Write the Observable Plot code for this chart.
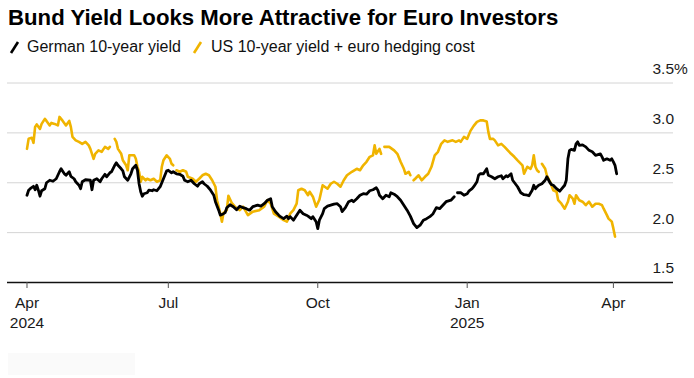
<!DOCTYPE html>
<html><head><meta charset="utf-8">
<script src="https://cdn.jsdelivr.net/npm/d3@7"></script>
<script src="https://cdn.jsdelivr.net/npm/@observablehq/plot@0.6"></script>
<style>
body{margin:0;background:#fff;font-family:"Liberation Sans",Arial,sans-serif;}
#wrap{position:relative;width:694px;height:378px;overflow:hidden;background:#fff;}
#title{position:absolute;left:8px;top:7px;font-weight:bold;font-size:22.2px;line-height:22px;color:#000;white-space:nowrap;}
#legend{position:absolute;left:0;top:39px;width:694px;height:18px;font-size:16px;line-height:16px;color:#111;white-space:nowrap;}
.item{position:absolute;top:0;}
.icon{position:absolute;top:0;}
#chart{position:absolute;left:0;top:60px;}
#logo{position:absolute;left:8px;top:353px;width:127px;height:22px;background:#fafafa;}
</style></head>
<body><div id="wrap">
<div id="title">Bund Yield Looks More Attractive for Euro Investors</div>
<div id="legend"></div>
<div id="chart"></div>
<div id="logo"></div>
</div>
<script>
// ---- data ----
const seriesNames = ["German 10-year yield", "US 10-year yield + euro hedging cost"];
const seriesColors = ["#000000", "#f0b400"];

const germanDates = ["2024-04-05","2024-04-06","2024-04-07","2024-04-09","2024-04-10","2024-04-11","2024-04-12","2024-04-13","2024-04-14","2024-04-16","2024-04-17","2024-04-19","2024-04-21","2024-04-23","2024-04-25","2024-04-26","2024-04-28","2024-04-29","2024-05-01","2024-05-02","2024-05-04","2024-05-05","2024-05-07","2024-05-08","2024-05-09","2024-05-11","2024-05-14","2024-05-15","2024-05-16","2024-05-18","2024-05-20","2024-05-21","2024-05-23","2024-05-24","2024-05-26","2024-05-27","2024-05-29","2024-05-30","2024-05-31","2024-06-02","2024-06-03","2024-06-04","2024-06-06","2024-06-08","2024-06-09","2024-06-11","2024-06-12","2024-06-13","2024-06-14","2024-06-15","2024-06-16","2024-06-18","2024-06-19","2024-06-21","2024-06-22","2024-06-24","2024-06-26","2024-06-28","2024-06-30","2024-07-01","2024-07-03","2024-07-04","2024-07-06","2024-07-08","2024-07-10","2024-07-11","2024-07-13","2024-07-15","2024-07-17","2024-07-19","2024-07-20","2024-07-22","2024-07-23","2024-07-25","2024-07-27","2024-07-29","2024-07-30","2024-08-01","2024-08-02","2024-08-04","2024-08-05","2024-08-06","2024-08-08","2024-08-10","2024-08-12","2024-08-14","2024-08-16","2024-08-18","2024-08-20","2024-08-22","2024-08-25","2024-08-27","2024-08-29","2024-08-31","2024-09-02","2024-09-03","2024-09-05","2024-09-07","2024-09-08","2024-09-10","2024-09-12","2024-09-13","2024-09-14","2024-09-16","2024-09-18","2024-09-20","2024-09-22","2024-09-24","2024-09-25","2024-09-27","2024-09-28","2024-09-30","2024-10-01","2024-10-02","2024-10-04","2024-10-05","2024-10-07","2024-10-09","2024-10-11","2024-10-13","2024-10-15","2024-10-16","2024-10-18","2024-10-20","2024-10-22","2024-10-23","2024-10-25","2024-10-27","2024-10-29","2024-10-31","2024-11-02","2024-11-04","2024-11-06","2024-11-07","2024-11-08","2024-11-10","2024-11-12","2024-11-14","2024-11-15","2024-11-17","2024-11-19","2024-11-21","2024-11-23","2024-11-25","2024-11-27","2024-11-29","2024-12-01","2024-12-03","2024-12-05","2024-12-07","2024-12-09","2024-12-11","2024-12-13","2024-12-15","2024-12-17","2024-12-19","2024-12-22","2024-12-24","2024-12-25","2024-12-26","2024-12-28","2024-12-30","2025-01-01","2025-01-02","2025-01-04","2025-01-05","2025-01-07","2025-01-08","2025-01-09","2025-01-11","2025-01-13","2025-01-14","2025-01-16","2025-01-18","2025-01-20","2025-01-22","2025-01-23","2025-01-25","2025-01-26","2025-01-28","2025-01-29","2025-02-01","2025-02-03","2025-02-05","2025-02-07","2025-02-08","2025-02-10","2025-02-11","2025-02-12","2025-02-13","2025-02-14","2025-02-16","2025-02-18","2025-02-19","2025-02-21","2025-02-22","2025-02-23","2025-02-25","2025-02-27","2025-02-28","2025-03-02","2025-03-03","2025-03-04","2025-03-05","2025-03-06","2025-03-08","2025-03-09","2025-03-10","2025-03-11","2025-03-13","2025-03-15","2025-03-17","2025-03-19","2025-03-21","2025-03-22","2025-03-24","2025-03-25","2025-03-26","2025-03-28","2025-03-30","2025-03-31","2025-04-01","2025-04-02","2025-04-03"];
const germanYield = [2.375,2.425,2.44,2.465,2.43,2.475,2.425,2.365,2.42,2.44,2.5,2.525,2.515,2.54,2.61,2.64,2.59,2.575,2.61,2.565,2.54,2.51,2.475,2.44,2.51,2.53,2.525,2.43,2.525,2.54,2.51,2.54,2.585,2.56,2.6,2.61,2.675,2.70,2.675,2.64,2.62,2.56,2.525,2.59,2.64,2.675,2.625,2.49,2.41,2.365,2.39,2.4,2.425,2.42,2.43,2.42,2.46,2.54,2.62,2.625,2.6,2.61,2.59,2.585,2.565,2.525,2.51,2.525,2.49,2.465,2.49,2.51,2.49,2.465,2.425,2.375,2.31,2.225,2.175,2.19,2.2,2.25,2.28,2.26,2.23,2.265,2.25,2.24,2.225,2.26,2.275,2.265,2.29,2.325,2.34,2.26,2.21,2.175,2.16,2.14,2.165,2.14,2.16,2.125,2.175,2.225,2.19,2.175,2.165,2.14,2.16,2.11,2.04,2.125,2.19,2.24,2.265,2.275,2.285,2.29,2.26,2.21,2.25,2.31,2.325,2.31,2.34,2.375,2.39,2.385,2.42,2.43,2.45,2.425,2.375,2.34,2.375,2.36,2.4,2.385,2.36,2.325,2.275,2.225,2.165,2.09,2.05,2.075,2.125,2.14,2.16,2.19,2.25,2.24,2.275,2.31,2.325,2.36,null,2.40,2.40,2.375,2.39,2.415,2.44,2.46,2.51,2.575,2.59,2.59,2.64,2.575,2.56,2.54,2.56,2.57,2.54,2.57,2.56,2.59,2.525,2.46,2.40,2.38,2.375,2.37,2.425,2.475,2.44,2.46,2.475,2.49,2.525,2.56,2.5,2.48,2.475,2.44,2.415,2.435,2.475,2.525,2.74,2.825,2.835,2.825,2.89,2.91,2.875,2.88,2.86,2.825,2.81,2.775,2.78,2.79,2.76,2.725,2.74,2.725,2.74,2.71,2.675,2.59];

const usDates = ["2024-04-05","2024-04-06","2024-04-08","2024-04-09","2024-04-10","2024-04-11","2024-04-13","2024-04-14","2024-04-16","2024-04-17","2024-04-19","2024-04-20","2024-04-22","2024-04-24","2024-04-25","2024-04-27","2024-04-29","2024-05-01","2024-05-02","2024-05-03","2024-05-05","2024-05-07","2024-05-09","2024-05-11","2024-05-13","2024-05-14","2024-05-16","2024-05-17","2024-05-19","2024-05-21","2024-05-23","2024-05-25","2024-05-26","2024-05-27","2024-05-29","2024-05-30","2024-05-31","2024-06-02","2024-06-03","2024-06-05","2024-06-06","2024-06-07","2024-06-10","2024-06-11","2024-06-12","2024-06-13","2024-06-14","2024-06-15","2024-06-17","2024-06-18","2024-06-20","2024-06-22","2024-06-24","2024-06-26","2024-06-27","2024-06-28","2024-06-30","2024-07-02","2024-07-03","2024-07-04","2024-07-05","2024-07-06","2024-07-08","2024-07-10","2024-07-12","2024-07-13","2024-07-16","2024-07-18","2024-07-20","2024-07-22","2024-07-24","2024-07-26","2024-07-28","2024-07-30","2024-07-31","2024-08-02","2024-08-03","2024-08-04","2024-08-06","2024-08-07","2024-08-09","2024-08-11","2024-08-14","2024-08-16","2024-08-19","2024-08-22","2024-08-26","2024-08-29","2024-08-31","2024-09-02","2024-09-04","2024-09-07","2024-09-10","2024-09-12","2024-09-14","2024-09-16","2024-09-18","2024-09-19","2024-09-21","2024-09-23","2024-09-25","2024-09-26","2024-09-28","2024-09-30","2024-10-02","2024-10-04","2024-10-07","2024-10-09","2024-10-11","2024-10-13","2024-10-15","2024-10-17","2024-10-19","2024-10-22","2024-10-25","2024-10-27","2024-10-29","2024-10-31","2024-11-02","2024-11-04","2024-11-05","2024-11-06","2024-11-08","2024-11-09","2024-11-10","2024-11-11","2024-11-14","2024-11-17","2024-11-19","2024-11-21","2024-11-23","2024-11-24","2024-11-26","2024-11-27","2024-11-28","2024-11-29","2024-11-30","2024-12-02","2024-12-04","2024-12-06","2024-12-08","2024-12-10","2024-12-12","2024-12-14","2024-12-16","2024-12-18","2024-12-20","2024-12-23","2024-12-25","2024-12-27","2024-12-28","2024-12-30","2025-01-01","2025-01-03","2025-01-05","2025-01-07","2025-01-09","2025-01-11","2025-01-13","2025-01-14","2025-01-15","2025-01-17","2025-01-18","2025-01-20","2025-01-22","2025-01-24","2025-01-26","2025-01-28","2025-01-30","2025-02-01","2025-02-04","2025-02-05","2025-02-06","2025-02-07","2025-02-09","2025-02-10","2025-02-11","2025-02-12","2025-02-13","2025-02-14","2025-02-15","2025-02-16","2025-02-18","2025-02-19","2025-02-21","2025-02-23","2025-02-25","2025-02-26","2025-02-28","2025-03-02","2025-03-04","2025-03-05","2025-03-07","2025-03-08","2025-03-09","2025-03-11","2025-03-13","2025-03-15","2025-03-17","2025-03-19","2025-03-21","2025-03-23","2025-03-25","2025-03-26","2025-03-28","2025-03-29","2025-03-31","2025-04-01","2025-04-02"];
const usHedged = [2.84,2.94,2.95,2.90,3.06,3.085,3.04,3.09,3.14,3.12,3.075,3.10,3.09,3.075,3.16,3.12,3.075,3.12,3.06,2.96,2.925,2.91,2.89,2.91,2.875,2.84,2.74,2.79,2.825,2.81,2.86,2.84,2.86,null,2.94,2.91,2.84,2.79,2.725,2.675,2.625,2.775,2.775,2.74,2.66,2.61,2.51,2.56,2.525,2.54,2.525,2.54,2.51,2.525,2.66,2.725,2.775,2.74,2.69,2.675,null,2.625,2.61,2.625,2.61,2.56,2.54,2.51,2.54,2.575,2.59,2.575,2.525,2.46,2.325,2.19,2.11,2.20,2.225,2.37,2.30,2.26,2.225,2.26,2.175,2.21,2.225,2.26,2.325,2.29,2.19,2.16,2.125,2.11,2.19,2.225,2.29,2.425,2.44,2.425,2.375,2.41,2.36,2.26,2.33,2.475,2.44,2.49,2.51,2.49,2.46,2.525,2.575,2.61,2.64,2.625,2.675,2.71,2.76,2.775,2.875,2.79,2.84,2.79,null,2.86,2.86,2.825,2.79,2.71,2.64,2.59,2.61,2.575,null,2.525,2.54,2.575,2.525,2.56,2.59,2.66,2.775,2.81,2.89,2.925,2.91,2.925,2.91,2.925,2.91,2.96,2.94,3.02,3.07,3.11,3.125,3.125,3.115,3.01,2.94,2.94,2.925,2.875,2.89,2.86,2.825,2.79,2.76,2.725,2.675,2.59,2.625,2.66,2.64,2.675,2.775,2.66,2.625,2.61,null,2.69,2.64,2.575,2.51,2.425,2.41,2.325,2.29,2.24,2.31,2.375,2.34,2.29,2.375,2.325,2.31,2.275,2.31,2.26,2.29,2.29,2.275,2.24,2.175,2.14,2.11,2.04,1.96];

const yTicks = [1.5, 2.0, 2.5, 3.0, 3.5];
const yTickLabels = ["1.5", "2.0", "2.5", "3.0", "3.5%"];
const gridValues = [2.0, 2.5, 3.0, 3.5];
const xTickDates = ["2024-04-05", "2024-07-01", "2024-10-01", "2025-01-01", "2025-04-01"];
const xTickLabels = ["Apr\n2024", "Jul", "Oct", "Jan\n2025", "Apr"];
const xDomain = ["2024-03-24", "2025-05-08"];

// ---- build ----
const parse = d3.utcParse("%Y-%m-%d");
const german = germanDates.map((d, i) => ({date: parse(d), value: germanYield[i]}));
const us = usDates.map((d, i) => ({date: parse(d), value: usHedged[i]}));
const xTicks = xTickDates.map(parse);
const xLabelMap = new Map(xTicks.map((d, i) => [+d, xTickLabels[i]]));
const yLabelMap = new Map(yTicks.map((d, i) => [d, yTickLabels[i]]));

// legend
const legend = document.getElementById("legend");
const legendPos = [[9, 27], [192, 211]];
seriesNames.forEach((name, i) => {
  const ic = document.createElementNS("http://www.w3.org/2000/svg", "svg");
  ic.setAttribute("width", 12); ic.setAttribute("height", 16);
  ic.setAttribute("class", "icon");
  ic.style.left = legendPos[i][0] + "px";
  ic.innerHTML = `<line x1="2" y1="14" x2="9" y2="3" stroke="${seriesColors[i]}" stroke-width="2.6" stroke-linecap="butt"/>`;
  legend.appendChild(ic);
  const t = document.createElement("span");
  t.className = "item";
  t.style.left = legendPos[i][1] + "px";
  t.textContent = name;
  legend.appendChild(t);
});

const chart = Plot.plot({
  width: 694,
  height: 318,
  marginTop: 22.5,
  marginBottom: 96,
  marginLeft: 7,
  marginRight: 21,
  x: {type: "utc", domain: xDomain.map(parse), label: null},
  y: {domain: [1.5, 3.5], label: null},
  style: {fontFamily: "'Liberation Sans', Arial, sans-serif", fontSize: "15.5px", color: "#1a1a1a", background: "#fff", overflow: "visible"},
  marks: [
    Plot.ruleY(gridValues, {stroke: "#d4d4d4", strokeWidth: 1}),
    Plot.ruleY([1.5], {stroke: "#111", strokeWidth: 1.3}),
    Plot.axisY(yTicks, {anchor: "right", tickSize: 0, tickPadding: 0, dx: -21, dy: -14, textAnchor: "start", tickFormat: d => yLabelMap.get(d), label: null}),
    Plot.axisX(xTicks, {anchor: "bottom", tickSize: 6, tickPadding: 6, tickFormat: d => xLabelMap.get(+d), lineHeight: 1.25, stroke: "#555", label: null}),
    Plot.line(us, {x: "date", y: "value", stroke: seriesColors[1], strokeWidth: 2.6}),
    Plot.line(german, {x: "date", y: "value", stroke: seriesColors[0], strokeWidth: 2.8})
  ]
});
document.getElementById("chart").appendChild(chart);
</script>
</body></html>
